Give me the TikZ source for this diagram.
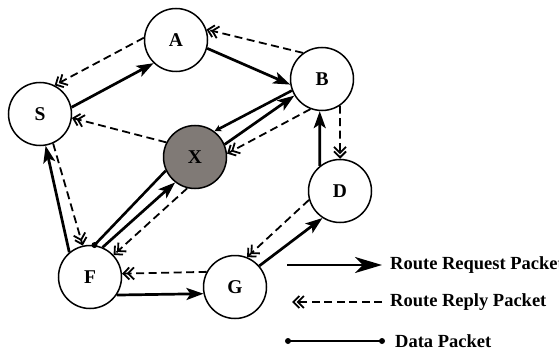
\documentclass[tikz,border=0pt]{standalone}
\usepackage{fontspec}
\setmainfont{Liberation Serif}
\usetikzlibrary{arrows.meta}
\definecolor{xgray}{RGB}{128,122,118}
\begin{document}
\begin{tikzpicture}[x=1pt,y=-1pt,
 nd/.style={circle,draw,line width=1.5pt,minimum size=63pt,inner sep=0pt,font=\fontsize{19.5}{21}\selectfont\bfseries,fill=white},
 req/.style={line width=2.7pt,-{Stealth[length=17pt,width=12pt,inset=4pt]}},
 reqbig/.style={line width=2.9pt,-{Stealth[length=27pt,width=16pt,inset=8pt]}},
 rep/.style={line width=1.8pt,dash pattern=on 8pt off 4.5pt,-{Straight Barb[length=6pt,width=12pt,sep=-3.5pt]Straight Barb[length=6pt,width=12pt]}},
 dat/.style={line width=2.6pt},
 datsmall/.style={line width=2.6pt,-{Stealth[length=7pt,width=7pt]}},
 dotnd/.style={circle,fill=black,inner sep=0pt,minimum size=6pt},
 lab/.style={anchor=west,inner sep=0pt,font=\fontsize{18.5}{20}\selectfont\bfseries}]
\useasboundingbox (0,0) rectangle (559,350);
\clip (0,0) rectangle (559,350);
% nodes
\node[nd] (S) at (40,114) {S};
\node[nd] (A) at (176,40) {A};
\node[nd] (B) at (322,79) {B};
\node[nd,fill=xgray] (X) at (195,157) {X};
\node[nd] (D) at (340,191) {D};
\node[nd] (F) at (90,277) {F};
\node[nd] (G) at (235,287) {G};
% edges
\draw[req] (S.12) -- (A.226);
\draw[rep] (A.176) -- (S.63);
\draw[req] (A.345) -- (B.190);
\draw[rep] (B.126) -- (A.19);
\draw[rep] (X.153) -- (S.353);
\draw[datsmall] (B.201) -- (X.53);
\draw[req] (X.23) -- (B.211);
\draw[rep] (B.249) -- (X.6);
\draw[dat] (F.82) -- (X.205);
\node[dotnd] (fdot) at (F.82) {};
\draw[req] (F.67) -- (X.232);
\draw[rep] (X.256) -- (F.43);
\draw[req] (F.130) -- (S.280);
\draw[rep] (S.294) -- (F.103);
\draw[req] (F.326) -- (G.192);
\draw[rep] (G.152) -- (F.6);
\draw[req] (G.41) -- (D.237);
\draw[rep] (D.196) -- (G.68);
\draw[req] (D.129) -- (B.266);
\draw[rep] (B.304) -- (D.90);
% legend
\coordinate (l1a) at (287,265);
\coordinate (l1b) at (382,265);
\draw[reqbig] (l1a) -- (l1b);
\node[lab] (t1) at (390,265) {Route Request Packet};
\coordinate (l2a) at (292,302);
\coordinate (l2b) at (382,302);
\draw[rep] (l2b) -- (l2a);
\node[lab] (t2) at (390,302) {Route Reply Packet};
\coordinate (l3a) at (288,341);
\coordinate (l3b) at (382,341);
\draw[dat] (l3a) -- (l3b);
\node[dotnd] (d3a) at (l3a) {};
\node[dotnd] (d3b) at (l3b) {};
\node[lab] (t3) at (395,341) {Data Packet};
\end{tikzpicture}
\end{document}
